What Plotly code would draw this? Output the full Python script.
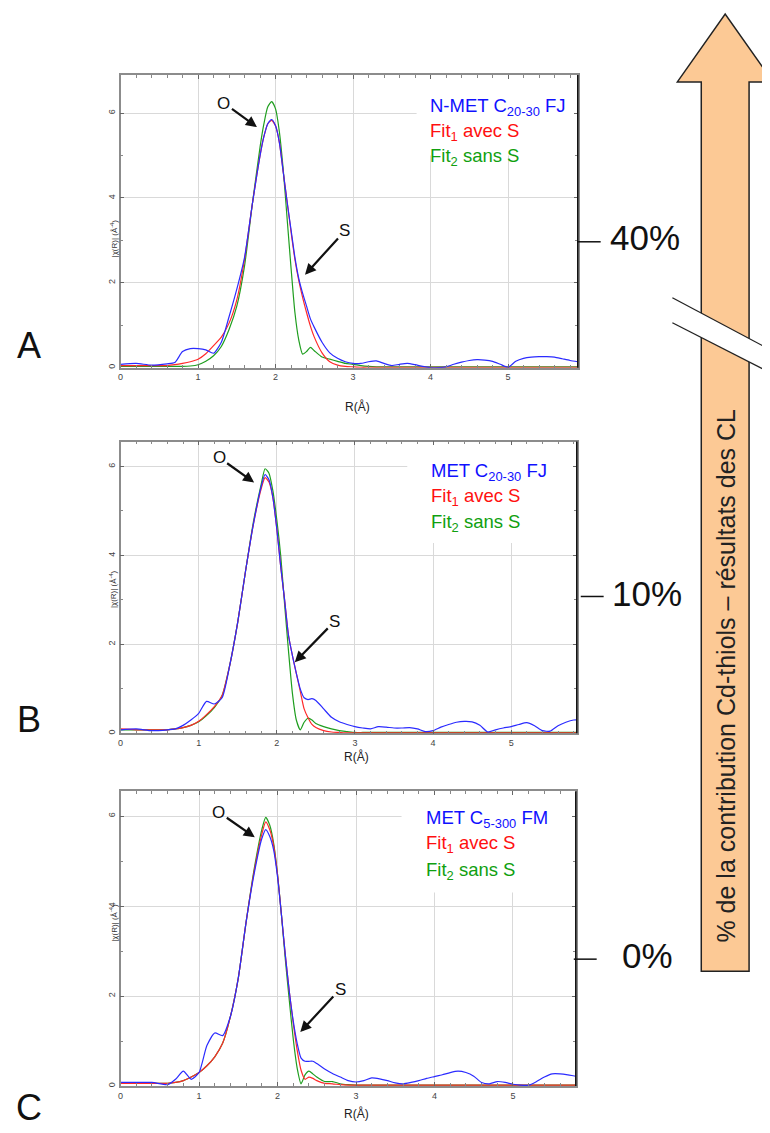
import plotly.graph_objects as go

# ---------------- data ----------------
R = [0.0, 0.2, 0.4, 0.6, 0.7, 0.8, 0.9, 1.0, 1.1, 1.2, 1.3, 1.4, 1.5, 1.6, 1.7, 1.8,
     1.85, 1.9, 1.95, 2.0, 2.05, 2.1, 2.15, 2.2, 2.25, 2.3, 2.35, 2.4, 2.45, 2.5,
     2.6, 2.7, 2.8, 2.9, 3.0, 3.1, 3.2, 3.3, 3.4, 3.5, 3.6, 3.7, 3.8, 3.9, 4.0,
     4.1, 4.2, 4.3, 4.4, 4.5, 4.6, 4.7, 4.8, 4.9, 5.0, 5.1, 5.2, 5.3, 5.4, 5.5,
     5.6, 5.7, 5.8, 5.9]

# Panel A : N-MET C20-30 FJ
A_exp = [0.08, 0.10, 0.06, 0.09, 0.12, 0.38, 0.45, 0.45, 0.42, 0.34, 0.60, 1.20, 1.85, 2.60, 3.85, 5.00,
         5.45, 5.75, 5.85, 5.70, 5.30, 4.60, 3.90, 3.25, 2.60, 2.10, 1.75, 1.45, 1.15, 0.95,
         0.60, 0.35, 0.22, 0.14, 0.10, 0.10, 0.14, 0.16, 0.10, 0.05, 0.08, 0.10, 0.07, 0.03, 0.00,
         0.00, 0.02, 0.08, 0.13, 0.17, 0.19, 0.18, 0.15, 0.08, 0.01, 0.15, 0.22, 0.25, 0.26, 0.26,
         0.25, 0.21, 0.17, 0.14]
A_fit1 = [0.05, 0.05, 0.05, 0.05, 0.07, 0.10, 0.14, 0.20, 0.33, 0.52, 0.72, 1.05, 1.60, 2.55, 3.85, 5.00,
          5.45, 5.75, 5.83, 5.70, 5.30, 4.60, 3.90, 3.20, 2.55, 2.05, 1.65, 1.30, 0.98, 0.72,
          0.35, 0.14, 0.06, 0.03, 0.02, 0.01, 0.01, 0.01, 0.01, 0.01, 0.01, 0.01, 0.01, 0.01, 0.01,
          0.01, 0.01, 0.01, 0.01, 0.01, 0.01, 0.01, 0.01, 0.01, 0.01, 0.01, 0.01, 0.01, 0.01, 0.01,
          0.01, 0.01, 0.01, 0.01]
A_fit2 = [0.03, 0.03, 0.03, 0.03, 0.03, 0.03, 0.04, 0.07, 0.15, 0.28, 0.50, 0.90, 1.45, 2.40, 3.85, 5.20,
          5.75, 6.15, 6.27, 6.10, 5.55, 4.65, 3.50, 2.35, 1.30, 0.65, 0.32, 0.38, 0.48, 0.40,
          0.25, 0.20, 0.15, 0.10, 0.08, 0.05, 0.03, 0.02, 0.02, 0.02, 0.02, 0.02, 0.02, 0.02, 0.02,
          0.02, 0.02, 0.02, 0.02, 0.02, 0.02, 0.02, 0.02, 0.02, 0.02, 0.02, 0.02, 0.02, 0.02, 0.02,
          0.02, 0.02, 0.02, 0.02]

# Panel B : MET C20-30 FJ
B_exp = [0.08, 0.10, 0.06, 0.08, 0.10, 0.18, 0.30, 0.45, 0.72, 0.66, 0.80, 1.55, 2.50, 3.65, 4.70, 5.55,
         5.82, 5.70, 5.30, 4.60, 3.75, 3.00, 2.20, 1.75, 1.35, 1.00, 0.80, 0.76, 0.78, 0.74,
         0.55, 0.36, 0.26, 0.20, 0.15, 0.12, 0.10, 0.15, 0.14, 0.12, 0.12, 0.13, 0.10, 0.04, 0.06,
         0.14, 0.20, 0.25, 0.27, 0.26, 0.18, 0.03, 0.08, 0.12, 0.15, 0.20, 0.24, 0.17, 0.06, 0.05,
         0.17, 0.25, 0.30, 0.30]
B_fit1 = [0.10, 0.08, 0.08, 0.08, 0.10, 0.13, 0.18, 0.27, 0.42, 0.60, 0.85, 1.55, 2.50, 3.65, 4.70, 5.50,
          5.75, 5.65, 5.30, 4.60, 3.75, 3.00, 2.20, 1.75, 1.35, 0.95, 0.55, 0.35, 0.20, 0.13,
          0.06, 0.03, 0.02, 0.01, 0.01, 0.01, 0.01, 0.01, 0.01, 0.01, 0.01, 0.01, 0.01, 0.01, 0.01,
          0.01, 0.01, 0.01, 0.01, 0.01, 0.01, 0.01, 0.01, 0.01, 0.01, 0.01, 0.01, 0.01, 0.01, 0.01,
          0.01, 0.01, 0.01, 0.01]
B_fit2 = [0.08, 0.08, 0.08, 0.08, 0.10, 0.13, 0.18, 0.26, 0.40, 0.58, 0.85, 1.55, 2.50, 3.65, 4.75, 5.60,
          5.95, 5.85, 5.45, 4.80, 4.00, 2.90, 1.85, 0.90, 0.30, 0.08, 0.25, 0.34, 0.30, 0.22,
          0.15, 0.10, 0.06, 0.04, 0.02, 0.02, 0.02, 0.02, 0.02, 0.02, 0.02, 0.02, 0.02, 0.02, 0.02,
          0.02, 0.02, 0.02, 0.02, 0.02, 0.02, 0.02, 0.02, 0.02, 0.02, 0.02, 0.02, 0.02, 0.02, 0.02,
          0.02, 0.02, 0.02, 0.02]

# Panel C : MET C5-300 FM
C_exp = [0.08, 0.08, 0.08, 0.03, 0.15, 0.33, 0.15, 0.30, 0.90, 1.18, 1.12, 1.55, 2.40, 3.65, 4.70, 5.50,
         5.70, 5.55, 5.25, 4.65, 3.80, 2.90, 2.10, 1.45, 0.95, 0.62, 0.55, 0.55, 0.55, 0.50,
         0.38, 0.28, 0.20, 0.12, 0.09, 0.12, 0.18, 0.16, 0.12, 0.07, 0.05, 0.08, 0.12, 0.17, 0.21,
         0.25, 0.30, 0.33, 0.30, 0.22, 0.08, 0.05, 0.10, 0.08, 0.04, 0.02, 0.02, 0.10, 0.20, 0.27,
         0.27, 0.25, 0.22, 0.20]
C_fit1 = [0.06, 0.06, 0.06, 0.06, 0.08, 0.12, 0.20, 0.30, 0.45, 0.65, 0.95, 1.55, 2.40, 3.65, 4.75, 5.60,
          5.87, 5.70, 5.35, 4.70, 3.80, 2.90, 2.10, 1.40, 0.80, 0.35, 0.15, 0.20, 0.17, 0.12,
          0.06, 0.05, 0.03, 0.02, 0.02, 0.02, 0.02, 0.02, 0.02, 0.02, 0.02, 0.02, 0.02, 0.02, 0.02,
          0.02, 0.02, 0.02, 0.02, 0.02, 0.02, 0.02, 0.02, 0.02, 0.02, 0.02, 0.02, 0.02, 0.02, 0.02,
          0.02, 0.02, 0.02, 0.02]
C_fit2 = [0.06, 0.06, 0.06, 0.06, 0.08, 0.12, 0.20, 0.30, 0.45, 0.65, 0.95, 1.55, 2.40, 3.65, 4.80, 5.70,
          5.97, 5.80, 5.40, 4.70, 3.80, 2.80, 1.90, 1.05, 0.40, 0.05, 0.25, 0.33, 0.27, 0.20,
          0.10, 0.10, 0.05, 0.03, 0.02, 0.02, 0.02, 0.02, 0.02, 0.02, 0.02, 0.02, 0.02, 0.02, 0.02,
          0.02, 0.02, 0.02, 0.02, 0.02, 0.02, 0.02, 0.02, 0.02, 0.02, 0.02, 0.02, 0.02, 0.02, 0.02,
          0.02, 0.02, 0.02, 0.02]

panel_letters = ["A", "B", "C"]
sample_names = ["N-MET C<sub>20-30</sub> FJ", "MET C<sub>20-30</sub> FJ", "MET C<sub>5-300</sub> FM"]
fit1_label = "Fit<sub>1</sub> avec S"
fit2_label = "Fit<sub>2</sub> sans S"
percent_labels = ["40%", "10%", "0%"]
x_ticks = [0, 1, 2, 3, 4, 5]
y_ticks = [0, 2, 4, 6]
arrow_text = "% de la contribution Cd-thiols – résultats des CL"

# ---------------- layout helpers ----------------
OFF = 8                      # page body margin of the browser
W, H = 770 - OFF, 1133 - OFF
FONT = "Liberation Sans, Arial, Helvetica, sans-serif"


def px(x):
    return (x - OFF) / W


def py(y):
    return 1 - (y - OFF) / H


# pixel geometry of each panel (page pixels): left, right, top, bottom ; axis ranges
panels = [
    dict(l=118, r=577, t=75, b=368, xmax=5.9, ymax=6.9, white=(3.82, 5.0),
         leg=(427, [107, 132, 157]), O=((1.76, 5.67), (-33, -24)), S=((2.38, 2.19), (40, -44)),
         letter=(26, 346), pct=((577, 600, 242), (607, 238)), xt=407, yt=218),
    dict(l=118, r=576, t=442, b=734, xmax=5.84, ymax=6.56, white=(3.67, 4.28),
         leg=(428, [472, 497, 523]), O=((1.71, 5.64), (-35, -25)), S=((2.23, 1.60), (40, -41)),
         letter=(26, 720), pct=((580, 603, 597), (609, 594)), xt=767, yt=590),
    dict(l=118, r=575, t=792, b=1087, xmax=5.8, ymax=6.55, white=(3.58, 4.3),
         leg=(423, [820, 845, 872]), O=((1.71, 5.53), (-36, -25)), S=((2.29, 1.20), (40, -43)),
         letter=(26, 1108), pct=((573, 596, 960), (619, 956)), xt=1124, yt=945),
]
series = [(A_exp, A_fit1, A_fit2), (B_exp, B_fit1, B_fit2), (C_exp, C_fit1, C_fit2)]

BLUE, RED, GREEN = "#2b2bff", "#ff2a2a", "#1f9e1f"
TXT_BLUE, TXT_RED, TXT_GREEN = "#1010ff", "#ff1010", "#10a010"

fig = go.Figure()
shapes = []
annotations = []
layout_axes = {}

for i, (p, (exp_, f1, f2)) in enumerate(zip(panels, series)):
    n = i + 1
    xa = "x" if n == 1 else f"x{n}"
    ya = "y" if n == 1 else f"y{n}"
    for vals, col, w in ((f2, GREEN, 1.2), (f1, RED, 1.2), (exp_, BLUE, 1.2)):
        fig.add_trace(go.Scatter(x=R, y=vals, mode="lines", xaxis=xa, yaxis=ya,
                                 line=dict(color=col, width=w, shape="spline", smoothing=0.6),
                                 showlegend=False, hoverinfo="skip"))
    xkey = "xaxis" if n == 1 else f"xaxis{n}"
    ykey = "yaxis" if n == 1 else f"yaxis{n}"
    layout_axes[xkey] = dict(
        domain=[px(p["l"]), px(p["r"])], range=[0, p["xmax"]], anchor=ya,
        tickvals=x_ticks, ticks="inside", ticklen=4, tickcolor="#666",
        minor=dict(dtick=0.2, ticks="inside", ticklen=3, tickcolor="#888", showgrid=False),
        showgrid=True, gridcolor="#d9d9d9", gridwidth=1, zeroline=False,
        showline=True, linecolor="#8c8c8c", linewidth=1.5, mirror="ticks",
        tickfont=dict(family=FONT, size=9, color="#444"), fixedrange=True)
    layout_axes[ykey] = dict(
        domain=[py(p["b"]), py(p["t"])], range=[0, p["ymax"]], anchor=xa,
        tickvals=y_ticks, ticks="inside", ticklen=4, tickcolor="#666", tickangle=-90,
        minor=dict(dtick=1, ticks="inside", ticklen=3, tickcolor="#888", showgrid=False),
        showgrid=True, gridcolor="#d9d9d9", gridwidth=1, zeroline=False,
        showline=True, linecolor="#8c8c8c", linewidth=1.5, mirror="ticks",
        tickfont=dict(family=FONT, size=9, color="#444"), fixedrange=True)

    # white box behind the in-plot legend (hides gridlines)
    shapes.append(dict(type="rect", xref=xa, yref=ya, x0=p["white"][0], x1=p["xmax"],
                       y0=p["white"][1], y1=p["ymax"], fillcolor="white",
                       line=dict(width=0), layer="between"))
    # dark right border
    shapes.append(dict(type="line", xref=f"{xa} domain", yref=f"{ya} domain",
                       x0=1, x1=1, y0=0, y1=1, line=dict(color="#111", width=1.5)))
    # percent connector
    (cx0, cx1, cy), (tx, ty) = p["pct"]
    shapes.append(dict(type="line", xref="paper", yref="paper", x0=px(cx0), x1=px(cx1),
                       y0=py(cy), y1=py(cy), line=dict(color="#111", width=1.5)))
    annotations.append(dict(xref="paper", yref="paper", x=px(tx), y=py(ty), text=percent_labels[i],
                            showarrow=False, xanchor="left", yanchor="middle",
                            font=dict(family=FONT, size=35, color="#111")))
    # panel letter
    annotations.append(dict(xref="paper", yref="paper", x=px(p["letter"][0]), y=py(p["letter"][1]),
                            text=panel_letters[i], showarrow=False, xanchor="center",
                            yanchor="middle", font=dict(family=FONT, size=36, color="#111")))
    # legend texts
    lx, lys = p["leg"]
    for txt, col, yy in ((sample_names[i], TXT_BLUE, lys[0]), (fit1_label, TXT_RED, lys[1]),
                         (fit2_label, TXT_GREEN, lys[2])):
        annotations.append(dict(xref="paper", yref="paper", x=px(lx), y=py(yy), text=txt,
                                showarrow=False, xanchor="left", yanchor="middle",
                                font=dict(family=FONT, size=18.5, color=col)))
    # O and S arrows
    for lab in ("O", "S"):
        (tx_, ty_), (ax_, ay_) = p[lab]
        annotations.append(dict(xref=xa, yref=ya, x=tx_, y=ty_, text=lab, showarrow=True,
                                ax=ax_, ay=ay_, arrowhead=2, arrowsize=1.0, arrowwidth=2.2,
                                arrowcolor="#111", standoff=0,
                                font=dict(family=FONT, size=17, color="#111")))
    # axis titles
    annotations.append(dict(xref="paper", yref="paper", x=px((p["l"] + p["r"]) / 2 + 8),
                            y=py(p["xt"]), text="R(Å)", showarrow=False,
                            font=dict(family=FONT, size=12, color="#222")))
    annotations.append(dict(xref="paper", yref="paper", x=px(104), y=py(p["yt"]),
                            text="|χ(R)| (Å<sup>-4</sup>)", showarrow=False, textangle=-90,
                            font=dict(family=FONT, size=8, color="#333")))

# ---------------- big arrow ----------------
pts = [(701, 972), (701, 82), (677, 82), (725, 14), (773, 82), (749, 82), (749, 972)]
path = "M " + " L ".join(f"{px(x):.5f},{py(y):.5f}" for x, y in pts) + " Z"
shapes.append(dict(type="path", xref="paper", yref="paper", path=path,
                   fillcolor="#fcc995", line=dict(color="#222", width=1.5), layer="above"))
# break mark
brk = [(672, 298), (772, 351), (772, 374), (672, 323)]
bpath = "M " + " L ".join(f"{px(x):.5f},{py(y):.5f}" for x, y in brk) + " Z"
shapes.append(dict(type="path", xref="paper", yref="paper", path=bpath,
                   fillcolor="white", line=dict(width=0), layer="above"))
for (x0, y0), (x1, y1) in (((672, 298), (772, 351)), ((672, 323), (772, 374))):
    shapes.append(dict(type="line", xref="paper", yref="paper", x0=px(x0), y0=py(y0),
                       x1=px(x1), y1=py(y1), line=dict(color="#222", width=1.3), layer="above"))

annotations.append(dict(xref="paper", yref="paper", x=px(726), y=py(676), text=arrow_text,
                        showarrow=False, textangle=-90, xanchor="center", yanchor="middle",
                        font=dict(family=FONT, size=25, color="#222")))

fig.update_layout(width=W, height=H, margin=dict(l=0, r=0, t=0, b=0),
                  paper_bgcolor="white", plot_bgcolor="white",
                  shapes=shapes, annotations=annotations, showlegend=False, **layout_axes)

fig.write_html("out.html")
